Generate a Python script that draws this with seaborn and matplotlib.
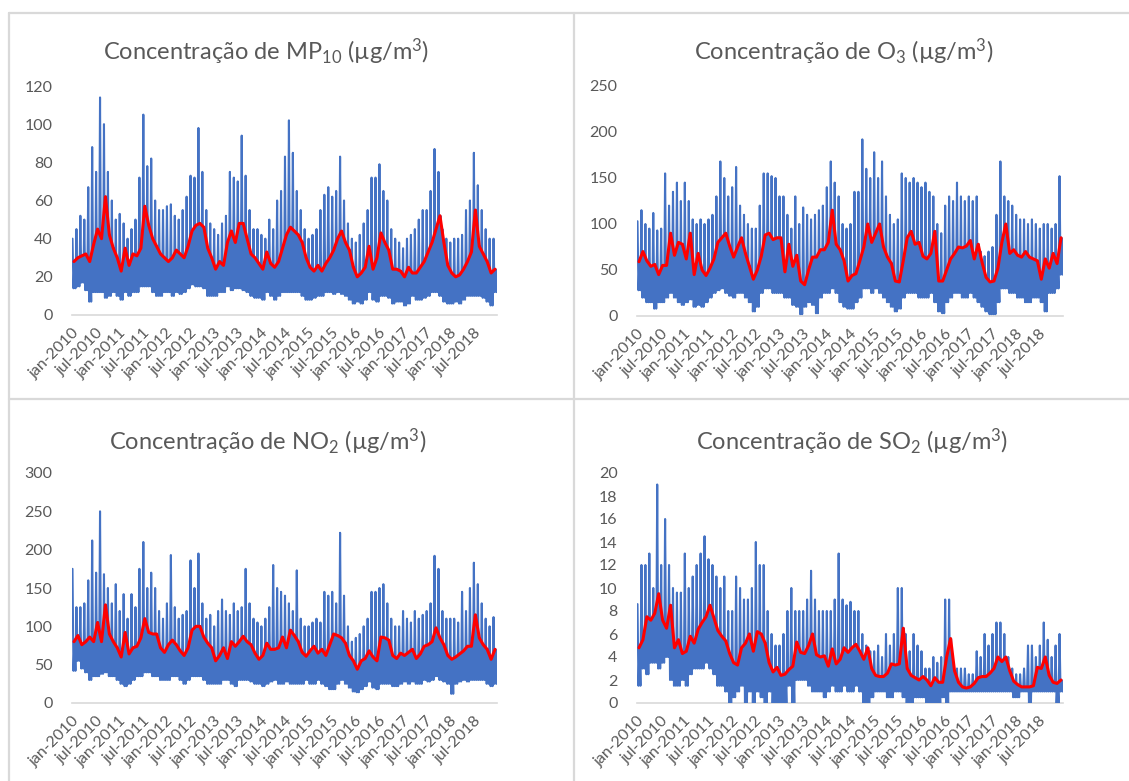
import numpy as np
import pandas as pd
import matplotlib
matplotlib.use("Agg")
import matplotlib.pyplot as plt
from matplotlib.lines import Line2D
import seaborn as sns

# ---------------- data (monthly readings) ----------------
tick_labels = ["jan-2010", "jul-2010", "jan-2011", "jul-2011", "jan-2012", "jul-2012",
               "jan-2013", "jul-2013", "jan-2014", "jul-2014", "jan-2015", "jul-2015",
               "jan-2016", "jul-2016", "jan-2017", "jul-2017", "jan-2018", "jul-2018", ""]

# MP10
mp10_media = [28, 30, 31, 32, 28, 37, 45, 40, 62, 42, 35, 30,
              23, 35, 26, 32, 31, 35, 57, 47, 40, 36, 32, 30,
              28, 30, 34, 32, 30, 36, 44, 47, 48, 46, 35, 30,
              24, 28, 26, 38, 44, 38, 48, 48, 40, 32, 30, 27,
              24, 33, 27, 25, 28, 35, 42, 46, 44, 42, 38, 30,
              25, 23, 26, 23, 27, 30, 34, 40, 44, 38, 34, 25,
              20, 22, 25, 36, 24, 30, 43, 38, 34, 24, 24, 23,
              20, 25, 22, 22, 25, 28, 33, 38, 45, 52, 38, 26,
              22, 20, 21, 24, 28, 33, 55, 36, 32, 28, 22, 24]
mp10_max = [40, 45, 52, 50, 67, 88, 75, 114, 100, 75, 60, 50,
            53, 48, 40, 45, 50, 72, 105, 78, 82, 60, 55, 55,
            57, 58, 52, 50, 55, 62, 73, 72, 98, 75, 55, 48,
            45, 42, 48, 52, 75, 72, 70, 94, 73, 55, 45, 45,
            42, 40, 50, 45, 60, 65, 83, 102, 85, 65, 55, 45,
            40, 42, 45, 55, 63, 67, 62, 65, 83, 60, 48, 40,
            38, 42, 48, 55, 72, 72, 79, 65, 60, 45, 40, 38,
            35, 40, 42, 45, 50, 55, 55, 65, 87, 75, 45, 40,
            38, 40, 40, 42, 55, 60, 85, 68, 55, 45, 40, 40]
mp10_min = [14, 15, 17, 13, 7, 12, 12, 12, 9, 10, 12, 10,
            8, 12, 10, 12, 12, 15, 15, 15, 12, 10, 10, 12,
            12, 10, 12, 11, 12, 14, 16, 15, 15, 14, 10, 10,
            10, 12, 12, 15, 13, 14, 14, 13, 12, 10, 9, 9,
            8, 12, 10, 8, 10, 12, 12, 12, 12, 12, 10, 8,
            8, 9, 10, 10, 12, 12, 11, 12, 11, 10, 8, 6,
            7, 6, 8, 12, 8, 7, 10, 10, 9, 6, 7, 7,
            5, 6, 10, 8, 8, 9, 10, 12, 12, 10, 7, 6,
            6, 7, 6, 8, 10, 10, 10, 10, 9, 7, 5, 12]

# O3
o3_media = [59, 70, 60, 54, 56, 45, 55, 55, 90, 66, 80, 78,
            62, 90, 45, 68, 50, 44, 52, 62, 80, 85, 90, 76,
            64, 75, 85, 68, 54, 40, 50, 65, 88, 90, 83, 85,
            85, 48, 78, 54, 66, 38, 34, 50, 64, 64, 72, 72,
            80, 115, 78, 72, 60, 38, 44, 46, 60, 75, 100, 80,
            90, 100, 75, 64, 57, 38, 37, 60, 85, 92, 78, 80,
            65, 62, 68, 92, 38, 38, 50, 62, 68, 75, 74, 76,
            82, 62, 78, 58, 42, 37, 38, 52, 80, 100, 68, 72,
            66, 64, 70, 64, 62, 60, 40, 62, 52, 68, 57, 85]
o3_max = [103, 115, 100, 95, 112, 93, 95, 155, 120, 135, 145, 125,
          145, 125, 105, 100, 105, 100, 105, 110, 130, 168, 150, 130,
          140, 162, 120, 110, 100, 95, 95, 120, 155, 155, 152, 150,
          130, 130, 110, 95, 130, 100, 118, 110, 105, 110, 115, 120,
          140, 168, 145, 130, 100, 95, 100, 135, 135, 192, 160, 150,
          178, 150, 168, 130, 110, 100, 105, 155, 150, 145, 150, 145,
          140, 145, 135, 130, 100, 90, 120, 130, 125, 145, 130, 125,
          130, 125, 130, 70, 65, 70, 75, 110, 168, 130, 125, 120,
          110, 105, 105, 100, 105, 100, 95, 100, 100, 95, 100, 152]
o3_min = [28, 20, 15, 15, 8, 15, 15, 20, 25, 20, 15, 12,
          15, 18, 10, 12, 10, 15, 20, 25, 28, 30, 25, 22,
          20, 25, 25, 20, 15, 5, 10, 25, 30, 30, 25, 25,
          25, 20, 20, 12, 10, 2, 10, 15, 12, 3, 20, 25,
          25, 30, 25, 15, 10, 8, 8, 15, 20, 30, 30, 25,
          30, 25, 20, 15, 10, 5, 8, 20, 25, 25, 25, 20,
          20, 20, 25, 15, 5, 3, 15, 20, 25, 25, 20, 20,
          25, 20, 15, 10, 5, 2, 2, 15, 30, 30, 25, 25,
          20, 20, 15, 15, 20, 20, 15, 5, 25, 25, 30, 45]

# NO2
no2_media = [80, 88, 76, 80, 86, 80, 105, 80, 128, 90, 80, 72,
             60, 92, 64, 72, 74, 85, 110, 92, 90, 90, 72, 66,
             76, 82, 76, 68, 62, 72, 95, 100, 100, 86, 78, 72,
             55, 62, 72, 58, 80, 74, 80, 87, 80, 76, 65, 57,
             62, 78, 70, 70, 72, 86, 72, 95, 88, 80, 66, 61,
             68, 74, 65, 70, 62, 76, 90, 88, 85, 78, 62, 55,
             44, 55, 58, 68, 60, 55, 86, 85, 82, 62, 58, 65,
             62, 66, 70, 58, 64, 74, 76, 80, 98, 85, 76, 62,
             57, 60, 64, 68, 74, 74, 115, 85, 76, 70, 57, 70]
no2_max = [175, 125, 125, 130, 160, 212, 170, 250, 168, 150, 130, 155,
           120, 142, 110, 142, 125, 175, 210, 150, 170, 150, 120, 110,
           130, 193, 125, 110, 115, 120, 186, 150, 195, 130, 110, 115,
           100, 120, 135, 120, 115, 130, 120, 125, 175, 130, 110, 105,
           100, 110, 125, 180, 150, 145, 140, 130, 120, 173, 110, 100,
           100, 105, 110, 105, 145, 140, 145, 130, 222, 140, 100, 80,
           85, 90, 100, 110, 145, 145, 150, 155, 130, 110, 100, 100,
           120, 110, 105, 120, 110, 115, 120, 130, 192, 175, 120, 110,
           110, 110, 105, 145, 120, 150, 183, 155, 130, 110, 100, 112]
no2_min = [42, 55, 45, 40, 30, 35, 35, 38, 40, 35, 35, 30,
           25, 22, 25, 30, 35, 35, 40, 40, 35, 35, 30, 30,
           30, 35, 35, 30, 25, 30, 35, 35, 35, 30, 25, 25,
           25, 25, 30, 30, 25, 22, 30, 30, 30, 28, 25, 25,
           22, 25, 28, 30, 25, 25, 28, 25, 25, 25, 25, 30,
           25, 25, 30, 25, 22, 18, 18, 25, 30, 25, 20, 15,
           14, 18, 22, 28, 20, 18, 25, 25, 25, 22, 22, 25,
           28, 25, 28, 25, 25, 30, 28, 30, 35, 30, 28, 25,
           12, 25, 28, 30, 28, 30, 30, 30, 30, 25, 22, 25]

# SO2
so2_media = [4.8, 5.5, 7.5, 7.2, 7.8, 9.5, 7.2, 6.5, 8.5, 4.8, 5.5, 4.3,
             4.5, 5.8, 5.2, 6.4, 7.0, 7.5, 8.5, 7.4, 6.3, 5.8, 5.4, 4.3,
             3.5, 3.3, 4.8, 5.2, 6.0, 4.5, 6.2, 6.0, 5.2, 3.5, 2.7, 3.1,
             2.4, 2.5, 2.9, 3.2, 5.3, 4.4, 4.3, 5.0, 6.0, 4.2, 4.0, 4.1,
             3.2, 4.7, 3.4, 3.8, 4.8, 4.4, 4.8, 5.1, 4.5, 3.8, 4.8, 3.0,
             2.4, 2.3, 2.3, 2.6, 3.4, 3.3, 3.4, 6.5, 3.0, 2.4, 2.2, 2.0,
             2.3, 2.0, 1.5, 2.2, 1.8, 1.8, 4.0, 5.6, 2.8, 1.8, 1.4, 1.3,
             1.4, 1.7, 2.2, 2.3, 2.3, 2.6, 3.0, 4.0, 3.6, 4.0, 2.8, 1.9,
             1.6, 1.4, 1.4, 1.4, 1.5, 3.1, 3.0, 4.0, 2.4, 1.8, 1.7, 2.0]
so2_max = [8.6, 12, 12, 13, 10, 19, 12, 16, 12, 10, 9.6, 9.6,
           13, 10, 11, 12, 13, 14.5, 12.5, 12, 11, 10, 11, 8,
           8, 11, 10, 9, 9, 10, 14, 12, 12, 8, 6, 5,
           5, 6, 8, 10, 8, 8, 8, 9, 11.5, 9, 8, 8,
           8, 8, 9, 13, 9, 8.5, 8.8, 8, 8, 6, 5, 4.5,
           4.5, 5, 4, 6, 5, 6, 10, 10, 6, 4.5, 6, 5,
           4.5, 3, 3, 4, 3.5, 4, 9, 9, 3.5, 3, 3, 3,
           2.5, 2.5, 4.5, 4, 6, 5, 6, 7, 7, 6, 4, 3,
           2.5, 2.5, 3, 5, 5, 4, 5, 7, 5.5, 4, 5, 6]
so2_min = [1.5, 3, 2.5, 3.5, 3.5, 3, 3.5, 4, 2, 1.5, 1.5, 2,
           1.5, 2.5, 3, 3, 3, 3.5, 3, 2.5, 1.5, 1.5, 1, 0,
           0.5, 1, 1.5, 0, 1, 0, 1, 0.5, 0, 1, 0, 0,
           0, 0, 1.5, 0, 2, 2, 2, 1.5, 1, 1, 1, 0.5,
           1, 1.5, 1, 1, 1.5, 1, 1, 1.5, 1, 0, 0, 0.5,
           1, 1, 1, 0.5, 0.5, 1, 1, 0.5, 0, 0, 0.5, 0.5,
           0.5, 0, 0, 0, 0, 0.5, 0, 1, 1, 1, 1, 1,
           1, 1, 1, 1, 1, 1, 1, 1, 1, 1, 1, 0.5,
           0.5, 1, 1, 0, 1, 1, 1, 1, 1, 1, 0, 1]

# ---------------- style ----------------
sns.set_theme(style="white")
plt.rcParams['font.family'] = ['Lato', 'Noto Sans', 'DejaVu Sans']
plt.rcParams['mathtext.fontset'] = 'custom'
plt.rcParams['mathtext.rm'] = 'Lato'
plt.rcParams['mathtext.it'] = 'Lato:italic'
plt.rcParams['mathtext.bf'] = 'Lato:bold'

BLUE = "#4472C4"
RED = "#FF0000"
GREY_TXT = "#595959"
GREY_LN = "#D9D9D9"

W, H = 1129, 781
fig = plt.figure(figsize=(W / 100, H / 100), dpi=100)
fig.patch.set_facecolor("white")


def px_axes(left, top, right, bottom):
    return fig.add_axes([left / W, 1 - bottom / H, (right - left) / W, (bottom - top) / H])


panels = [
    dict(media=mp10_media, vmax=mp10_max, vmin=mp10_min, ymax=120, step=20,
         box=(72, 86, 497, 315), title=r"Concentração de MP$_{10}$ (µg/m$^{3}$)", tc=(266, 52)),
    dict(media=o3_media, vmax=o3_max, vmin=o3_min, ymax=250, step=50,
         box=(637, 86, 1063, 316), title=r"Concentração de O$_{3}$ (µg/m$^{3}$)", tc=(844, 52)),
    dict(media=no2_media, vmax=no2_max, vmin=no2_min, ymax=300, step=50,
         box=(72, 473, 497, 703), title=r"Concentração de NO$_{2}$ (µg/m$^{3}$)", tc=(268, 442)),
    dict(media=so2_media, vmax=so2_max, vmin=so2_min, ymax=20, step=2,
         box=(637, 473, 1063, 703), title=r"Concentração de SO$_{2}$ (µg/m$^{3}$)", tc=(852, 442)),
]

for p in panels:
    n = len(p["media"])
    months = np.arange(n)
    # blue daily-like series: per month peak -> trough -> monthly level -> trough
    xb = np.column_stack([months + 0.125, months + 0.375, months + 0.625, months + 0.875]).ravel()
    yb = np.column_stack([p["vmax"], p["vmin"], p["media"], p["vmin"]]).ravel()
    df_b = pd.DataFrame({"mes": xb, "valor": yb})
    df_r = pd.DataFrame({"mes": months + 0.5, "valor": p["media"]})

    ax = px_axes(*p["box"])
    sns.lineplot(data=df_b, x="mes", y="valor", ax=ax, color=BLUE, linewidth=1.5,
                 estimator=None, sort=False)
    sns.lineplot(data=df_r, x="mes", y="valor", ax=ax, color=RED, linewidth=2.2,
                 estimator=None, sort=False)

    ax.set_xlim(0, 108)
    ax.set_ylim(0, p["ymax"])
    ax.set_xlabel("")
    ax.set_ylabel("")
    ax.set_xticks(np.arange(0, 109, 6))
    ax.set_xticklabels(tick_labels, rotation=45, ha="right", va="top",
                       rotation_mode="anchor")
    yt = np.arange(0, p["ymax"] + p["step"] / 2, p["step"])
    ax.set_yticks(yt)
    ax.set_yticklabels([f"{int(v)}" for v in yt])
    for s in ["top", "right", "left"]:
        ax.spines[s].set_visible(False)
    ax.spines["bottom"].set_color(GREY_LN)
    ax.spines["bottom"].set_linewidth(1.2)
    ax.spines["bottom"].set_zorder(0)
    ax.tick_params(axis="x", direction="out", length=5, width=1.2, color=GREY_LN,
                   labelcolor=GREY_TXT, labelsize=11.5, pad=3)
    ax.tick_params(axis="y", length=0, labelcolor=GREY_TXT, labelsize=11.5, pad=14)
    ax.grid(False)
    ax.set_facecolor("none")

    fig.text(p["tc"][0] / W, 1 - p["tc"][1] / H, p["title"], ha="center", va="center",
             fontsize=17, color=GREY_TXT)

# chart borders
lw = 1.6
fig.add_artist(Line2D([9 / W, 1], [1 - 13 / H, 1 - 13 / H], color=GREY_LN, lw=lw))
fig.add_artist(Line2D([9 / W, 9 / W], [0, 1 - 13 / H], color=GREY_LN, lw=lw))
fig.add_artist(Line2D([574 / W, 574 / W], [0, 1 - 13 / H], color=GREY_LN, lw=lw))
fig.add_artist(Line2D([9 / W, 1], [1 - 399 / H, 1 - 399 / H], color=GREY_LN, lw=lw))

fig.savefig("out.png", dpi=100, facecolor="white")
